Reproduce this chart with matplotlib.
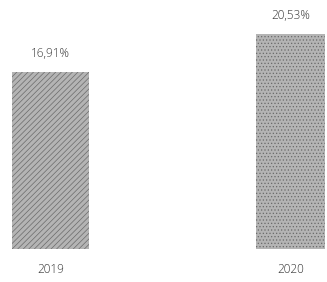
import matplotlib
matplotlib.use("Agg")
import matplotlib.pyplot as plt

categories = ["2019", "2020"]
values = [16.91, 20.53]
value_labels = ["16,91%", "20,53%"]

plt.rcParams['hatch.linewidth'] = 0.5
plt.rcParams['font.family'] = ['Open Sans', 'DejaVu Sans']

fig = plt.figure(figsize=(3.27, 2.82), dpi=100)
ax = fig.add_axes([0, 0, 1, 1])
xs = list(range(len(categories)))
hatches = ['//////', '.....']
widths = [0.32, 0.29]
for x, v, h, w in zip(xs, values, hatches, widths):
    ax.bar(x, v, width=w, color='#b4b4b4', edgecolor='#6a6a6a',
           hatch=h, linewidth=0)

for x, v, lab in zip(xs, values, value_labels):
    ax.annotate(lab, (x, v), xytext=(0, 13.5), textcoords='offset points',
                ha='center', va='center', fontsize=8.5, color='#333333',
                fontweight='light')
for x, c in zip(xs, categories):
    ax.annotate(c, (x, 0), xytext=(0, -15), textcoords='offset points',
                ha='center', va='center', fontsize=8.5, color='#333333',
                fontweight='light')

ax.set_xlim(-0.2104, 1.1521)
ax.set_ylim(-3.15, 23.78)
ax.axis('off')
fig.savefig('out.png', dpi=100, facecolor='white')
